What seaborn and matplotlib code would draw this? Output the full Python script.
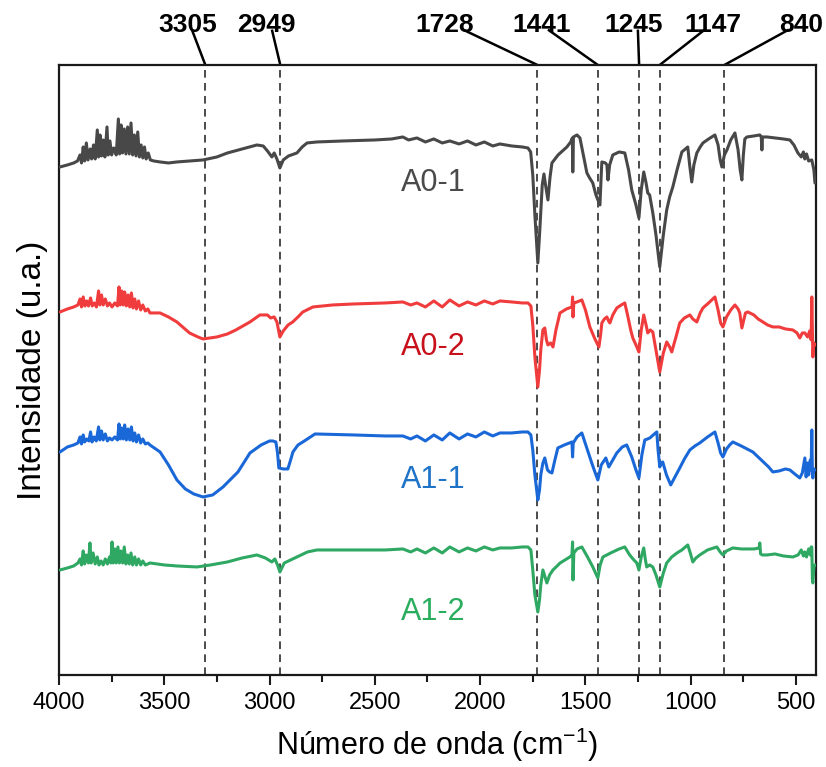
import matplotlib
matplotlib.use('Agg')
import matplotlib.pyplot as plt
import matplotlib.transforms as mtransforms
import seaborn as sns
import pandas as pd
from matplotlib.ticker import MultipleLocator

a01 = [(3995, 508), (3960, 510), (3930, 512), (3912, 514), (3900, 520), (3893, 512), (3885, 528), (3878, 514),
       (3870, 532), (3862, 515), (3852, 526), (3845, 516), (3836, 530), (3828, 516), (3818, 545), (3812, 518),
       (3805, 540), (3798, 519), (3790, 535), (3782, 518), (3772, 548), (3766, 520), (3758, 534), (3750, 520),
       (3740, 527), (3728, 520), (3718, 556), (3712, 521), (3705, 550), (3698, 522), (3690, 546), (3682, 521),
       (3674, 548), (3666, 521), (3658, 552), (3650, 520), (3642, 540), (3634, 519), (3626, 543), (3618, 518),
       (3610, 530), (3602, 517), (3594, 528), (3586, 516), (3576, 522), (3566, 515), (3550, 514), (3520, 513),
       (3480, 512), (3440, 513), (3380, 514), (3316, 515), (3250, 518), (3200, 522), (3130, 526), (3060, 530),
       (3030, 529), (3010, 524), (2989, 518), (2978, 522), (2965, 516), (2951, 507), (2935, 515), (2910, 519),
       (2870, 522), (2845, 528), (2822, 532), (2775, 533), (2650, 534), (2500, 535), (2420, 536), (2367, 538),
       (2340, 535), (2300, 537), (2260, 533), (2220, 536), (2180, 532), (2144, 534), (2100, 531), (2060, 534),
       (2020, 530), (1980, 533), (1940, 529), (1906, 531), (1850, 529), (1800, 528), (1773, 527), (1760, 523),
       (1750, 500), (1740, 460), (1726, 412), (1718, 440), (1712, 462), (1705, 490), (1697, 501), (1688, 488),
       (1678, 475), (1668, 498), (1659, 512), (1630, 520), (1588, 528), (1570, 533), (1562, 537), (1560, 503),
       (1557, 538), (1540, 540), (1526, 537), (1510, 520), (1493, 502), (1480, 497), (1465, 492), (1450, 480),
       (1431, 470), (1425, 500), (1422, 513), (1405, 512), (1398, 510), (1393, 495), (1385, 510), (1370, 520),
       (1340, 523), (1313, 522), (1295, 505), (1280, 485), (1260, 470), (1246, 457), (1235, 485), (1223, 503),
       (1212, 492), (1204, 482), (1195, 480), (1180, 462), (1165, 440), (1147, 408), (1130, 440), (1114, 465),
       (1100, 478), (1085, 488), (1065, 505), (1042, 523), (1025, 526), (1014, 528), (1005, 510), (995, 493),
       (985, 510), (971, 522), (955, 528), (942, 532), (915, 536), (885, 540), (870, 530), (860, 515),
       (852, 508), (840, 520), (828, 525), (810, 535), (790, 542), (775, 525), (765, 505), (757, 495),
       (750, 520), (743, 536), (733, 538), (700, 539), (672, 540), (665, 538), (662, 525), (659, 538),
       (638, 538), (600, 537), (560, 536), (529, 535), (510, 530), (491, 522), (475, 518), (465, 523),
       (458, 516), (450, 521), (440, 514), (425, 515), (415, 505), (410, 492)]

a02 = [(3995, 363), (3960, 366), (3930, 368), (3910, 370), (3900, 376), (3893, 368), (3885, 378), (3877, 369),
       (3868, 374), (3860, 369), (3850, 377), (3842, 369), (3832, 372), (3822, 368), (3812, 384), (3806, 370),
       (3798, 380), (3790, 370), (3780, 376), (3770, 369), (3760, 372), (3748, 368), (3735, 372), (3722, 369),
       (3715, 388), (3709, 370), (3702, 384), (3695, 370), (3688, 383), (3680, 369), (3672, 380), (3664, 368),
       (3656, 382), (3648, 367), (3640, 376), (3632, 366), (3622, 374), (3612, 365), (3602, 370), (3590, 364),
       (3578, 366), (3568, 362), (3520, 362), (3480, 358), (3440, 353), (3380, 342), (3340, 338), (3316, 336),
       (3250, 338), (3200, 341), (3160, 345), (3093, 353), (3046, 360), (3010, 360), (2995, 357), (2978, 358),
       (2965, 353), (2951, 338), (2935, 344), (2912, 350), (2890, 353), (2865, 358), (2842, 363), (2794, 368),
       (2700, 370), (2600, 371), (2450, 372), (2367, 373), (2330, 370), (2300, 372), (2260, 368), (2220, 374),
       (2180, 368), (2144, 375), (2100, 369), (2060, 373), (2020, 370), (1980, 374), (1940, 371), (1906, 374),
       (1850, 373), (1800, 372), (1773, 372), (1759, 369), (1750, 350), (1740, 318), (1726, 288), (1718, 305),
       (1712, 325), (1702, 345), (1693, 347), (1685, 335), (1678, 330), (1665, 332), (1654, 328), (1640, 345),
       (1621, 362), (1590, 366), (1564, 368), (1561, 378), (1559, 358), (1555, 372), (1540, 373), (1517, 375),
       (1500, 365), (1479, 348), (1455, 336), (1436, 328), (1428, 340), (1422, 352), (1410, 356), (1398, 358),
       (1390, 354), (1384, 352), (1370, 360), (1351, 367), (1330, 370), (1313, 372), (1300, 360), (1285, 345),
       (1275, 337), (1260, 330), (1246, 323), (1235, 345), (1223, 360), (1212, 350), (1204, 342), (1192, 345),
       (1180, 343), (1165, 325), (1147, 303), (1130, 322), (1114, 333), (1100, 328), (1090, 323), (1070, 338),
       (1052, 352), (1030, 357), (1004, 360), (990, 356), (971, 353), (955, 362), (942, 367), (915, 372),
       (885, 378), (870, 365), (858, 352), (847, 348), (830, 358), (810, 365), (790, 370), (775, 366),
       (767, 362), (757, 347), (748, 355), (740, 362), (729, 363), (700, 360), (680, 356), (657, 353),
       (635, 350), (610, 348), (580, 348), (550, 346), (515, 345), (495, 342), (482, 337), (470, 342),
       (458, 342), (445, 338), (435, 344), (428, 335), (425, 378), (422, 340), (420, 318), (415, 332),
       (410, 330)]

a11 = [(3995, 223), (3960, 228), (3930, 230), (3910, 232), (3900, 238), (3893, 231), (3885, 240), (3878, 233),
       (3868, 236), (3858, 234), (3850, 243), (3843, 233), (3833, 238), (3823, 234), (3812, 248), (3806, 235),
       (3798, 244), (3790, 235), (3780, 241), (3770, 234), (3760, 237), (3748, 235), (3735, 238), (3722, 235),
       (3715, 251), (3709, 236), (3702, 247), (3695, 236), (3688, 250), (3680, 235), (3672, 246), (3664, 235),
       (3656, 248), (3648, 234), (3640, 242), (3632, 233), (3622, 240), (3612, 232), (3602, 236), (3590, 231),
       (3578, 232), (3568, 230), (3520, 223), (3480, 210), (3440, 195), (3400, 186), (3360, 181), (3316, 178),
       (3270, 180), (3221, 188), (3150, 203), (3093, 222), (3040, 230), (3000, 234), (2985, 234), (2970, 233),
       (2962, 222), (2956, 207), (2935, 206), (2913, 206), (2900, 215), (2889, 223), (2865, 230), (2842, 233),
       (2784, 241), (2600, 240), (2450, 239), (2367, 239), (2330, 236), (2300, 239), (2260, 234), (2220, 240),
       (2180, 235), (2144, 242), (2100, 236), (2060, 241), (2020, 238), (1980, 243), (1940, 239), (1906, 242),
       (1850, 242), (1800, 243), (1773, 243), (1759, 240), (1750, 225), (1740, 200), (1726, 175), (1718, 185),
       (1712, 200), (1702, 212), (1693, 217), (1680, 205), (1670, 203), (1659, 202), (1645, 215), (1631, 227),
       (1600, 230), (1564, 233), (1561, 218), (1558, 232), (1540, 238), (1517, 242), (1495, 228), (1470, 212),
       (1455, 203), (1441, 195), (1425, 210), (1403, 217), (1395, 212), (1389, 208), (1370, 215), (1351, 222),
       (1325, 228), (1304, 230), (1280, 218), (1260, 205), (1246, 197), (1232, 220), (1218, 235), (1205, 236),
       (1194, 237), (1178, 240), (1161, 243), (1155, 225), (1147, 208), (1140, 212), (1133, 213), (1115, 200),
       (1095, 190), (1075, 198), (1052, 207), (1030, 216), (1004, 225), (980, 229), (957, 232), (920, 238),
       (885, 243), (870, 232), (858, 222), (847, 218), (830, 226), (815, 230), (800, 233), (760, 229),
       (705, 223), (660, 214), (630, 208), (610, 203), (580, 204), (550, 206), (529, 205), (500, 200),
       (482, 197), (470, 202), (458, 217), (452, 198), (445, 212), (440, 200), (432, 215), (428, 205),
       (425, 245), (422, 200), (420, 197), (415, 206), (410, 205)]

a12 = [(3995, 105), (3960, 107), (3930, 109), (3910, 112), (3900, 116), (3893, 110), (3885, 124), (3878, 111),
       (3870, 120), (3860, 112), (3853, 132), (3847, 112), (3838, 122), (3828, 111), (3818, 118), (3810, 110),
       (3800, 114), (3790, 110), (3780, 116), (3770, 111), (3760, 118), (3754, 112), (3748, 133), (3742, 112),
       (3735, 126), (3728, 112), (3720, 128), (3713, 112), (3706, 124), (3698, 112), (3690, 128), (3682, 111),
       (3674, 120), (3666, 111), (3658, 122), (3650, 110), (3640, 118), (3632, 110), (3622, 116), (3612, 110),
       (3602, 114), (3590, 110), (3578, 111), (3568, 112), (3500, 110), (3440, 109), (3345, 108), (3280, 110),
       (3200, 113), (3130, 117), (3060, 120), (3020, 117), (2989, 113), (2975, 116), (2962, 110), (2951, 103),
       (2930, 112), (2900, 115), (2870, 118), (2820, 123), (2775, 125), (2600, 125), (2450, 125), (2367, 126),
       (2330, 123), (2300, 126), (2260, 122), (2220, 127), (2180, 122), (2144, 128), (2100, 123), (2060, 127),
       (2020, 124), (1980, 128), (1940, 125), (1906, 127), (1850, 127), (1800, 128), (1773, 128), (1759, 125),
       (1750, 105), (1740, 80), (1726, 63), (1718, 75), (1712, 90), (1702, 105), (1692, 98), (1683, 92),
       (1670, 100), (1654, 105), (1620, 112), (1574, 118), (1564, 120), (1561, 133), (1559, 95), (1555, 122),
       (1540, 126), (1517, 128), (1490, 118), (1465, 108), (1441, 97), (1430, 110), (1417, 118), (1380, 122),
       (1340, 126), (1313, 128), (1290, 120), (1270, 115), (1256, 112), (1246, 105), (1235, 118), (1223, 127),
       (1215, 115), (1209, 108), (1195, 110), (1180, 108), (1165, 100), (1147, 88), (1130, 102), (1114, 112),
       (1090, 118), (1065, 122), (1042, 125), (1014, 130), (1002, 122), (990, 113), (975, 117), (957, 120),
       (920, 125), (876, 128), (860, 123), (847, 120), (830, 124), (800, 127), (760, 126), (700, 126),
       (675, 127), (672, 132), (668, 121), (660, 120), (638, 120), (600, 121), (560, 119), (515, 118),
       (490, 120), (475, 125), (465, 119), (458, 123), (450, 118), (440, 126), (432, 120), (428, 128),
       (425, 128), (422, 95), (420, 92), (415, 108), (410, 110)]

muestras = ['A0-1', 'A0-2', 'A1-1', 'A1-2']
colores_linea = ['#484848', '#f03c3c', '#1a68d8', '#2ea862']
colores_texto = ['#4a4a4a', '#c8101a', '#1f74c8', '#2aad5e']

picos = [3305, 2949, 1728, 1441, 1245, 1147, 840]
picos_texto_x = [3388, 3017, 2167, 1707, 1270, 895, 478]
picos_linea_x = [3369, 2989, 2082, 1678, 1251, 933, 534]

xticks = [4000, 3500, 3000, 2500, 2000, 1500, 1000, 500]

# --- DataFrame largo ---
frames = []
for nombre, datos in zip(muestras, [a01, a02, a11, a12]):
    d = pd.DataFrame(datos, columns=['wn', 'intensidad'])
    d['muestra'] = nombre
    frames.append(d)
df = pd.concat(frames, ignore_index=True)

sns.set_style('ticks')
plt.rcParams['font.family'] = ['Liberation Sans', 'DejaVu Sans']
plt.rcParams['mathtext.default'] = 'regular'
plt.rcParams['text.color'] = 'black'
plt.rcParams['axes.labelcolor'] = 'black'
plt.rcParams['xtick.color'] = 'black'

fig = plt.figure(figsize=(8.26, 7.67), dpi=100)
ax = fig.add_axes([0.0714, 0.12, 0.9165, 0.7953])

for p in picos:
    ax.axvline(p, color='#1a1a1a', ls=(0, (5, 3.5)), lw=1.1, zorder=1)

sns.lineplot(data=df, x='wn', y='intensidad', hue='muestra', hue_order=muestras,
             palette=dict(zip(muestras, colores_linea)), estimator=None, sort=True,
             lw=2.2, legend=False, ax=ax, zorder=3)

ax.set_xlim(4000, 405)
ax.set_ylim(0, 610)
ax.set_yticks([])
ax.set_xticks(xticks)
ax.set_xticklabels([str(t) for t in xticks], fontsize=17)
ax.xaxis.set_minor_locator(MultipleLocator(250))
ax.tick_params(axis='x', which='major', direction='out', length=7, width=1.5, pad=5, color='#1a1a1a')
ax.tick_params(axis='x', which='minor', direction='out', length=5, width=1.5, color='#1a1a1a')
for s in ax.spines.values():
    s.set_linewidth(1.6)
    s.set_color('#1a1a1a')

ax.set_xlabel('Número de onda (cm$^{-1}$)', fontsize=22, labelpad=9)
ax.set_ylabel('Intensidade (u.a.)', fontsize=24, labelpad=8)

# etiquetas de cada muestra
etiqueta_y = [492, 328, 195, 63]
for nombre, c, yy in zip(muestras, colores_texto, etiqueta_y):
    ax.text(2224, yy, nombre, color=c, fontsize=22, ha='center', va='center', zorder=4)

# etiquetas de picos con conectores
trans = mtransforms.blended_transform_factory(ax.transData, ax.transAxes)
for p, tx, lx in zip(picos, picos_texto_x, picos_linea_x):
    ax.plot([lx, p], [1.058, 1.0], color='k', lw=1.8, transform=trans, clip_on=False,
            solid_capstyle='butt')
    ax.text(tx, 1.066, str(p), transform=trans, ha='center', va='center', fontsize=19,
            fontweight='bold')

fig.savefig('out.png', dpi=100)
